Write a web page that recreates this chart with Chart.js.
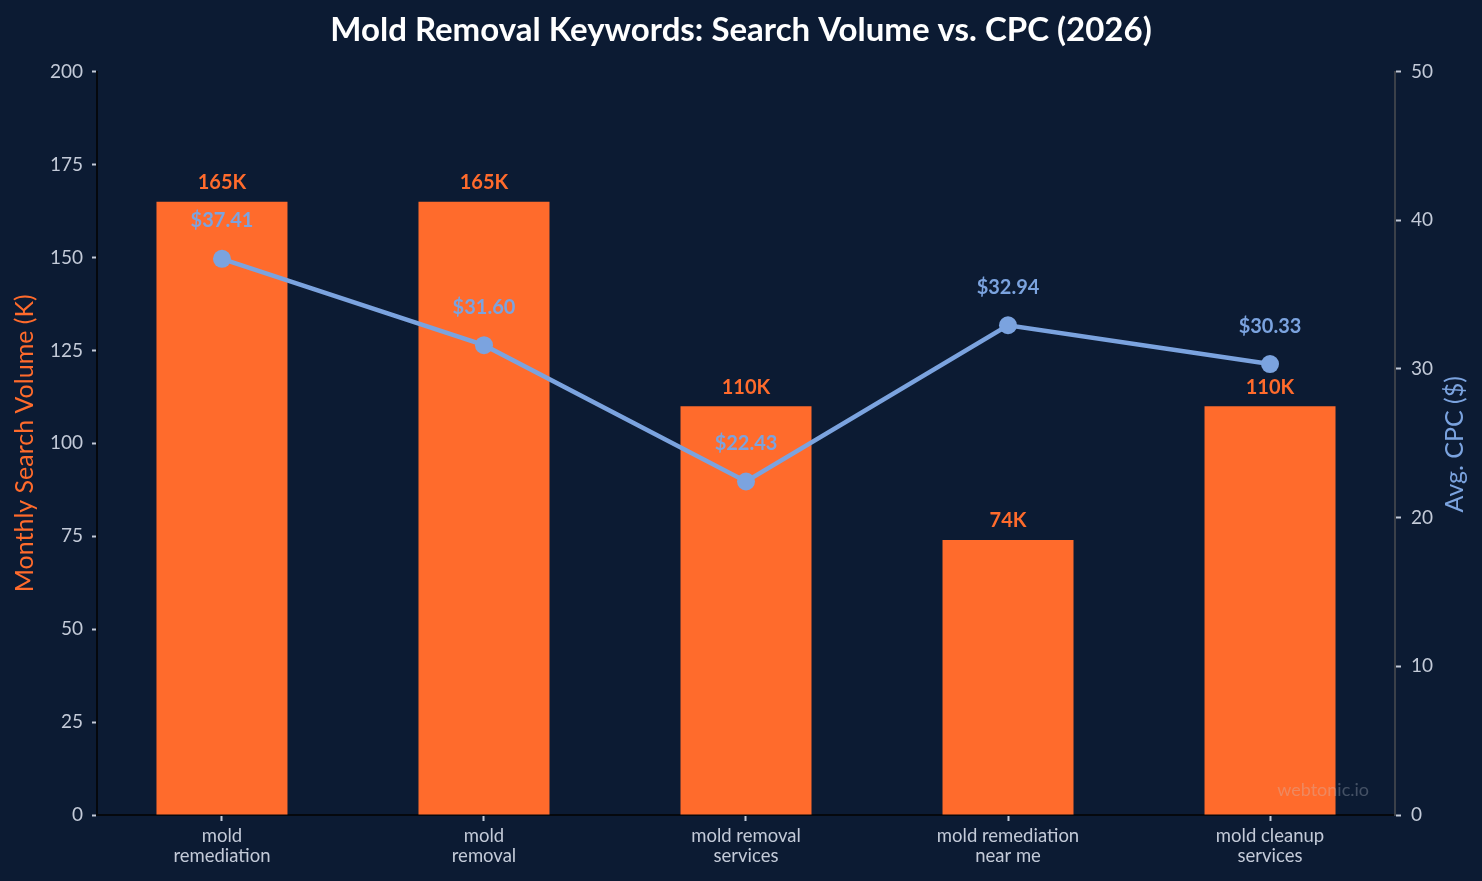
<!DOCTYPE html>
<html>
<head>
<meta charset="utf-8">
<script src="https://cdn.jsdelivr.net/npm/chart.js@4/dist/chart.umd.min.js"></script>
<style>
html,body{margin:0;padding:0;background:#0c1b33;}
#wrap{width:1482px;height:881px;}
</style>
</head>
<body>
<div id="wrap"><canvas id="c" width="1482" height="881"></canvas></div>
<script>
const categories = [["mold","remediation"],["mold","removal"],["mold removal","services"],["mold remediation","near me"],["mold cleanup","services"]];
const volumeK = [165, 165, 110, 74, 110];
const cpc = [37.41, 31.60, 22.43, 32.94, 30.33];
const volumeTicks = [0, 25, 50, 75, 100, 125, 150, 175, 200];
const cpcTicks = [0, 10, 20, 30, 40, 50];

const ORANGE = '#ff6b2c';
const BLUE = '#7ba3df';
const TICK = '#c3cad8';
const FONT = 'Lato, "Open Sans", sans-serif';

const labelPlugin = {
  id: 'valueLabels',
  afterDatasetsDraw(chart) {
    const ctx = chart.ctx;
    ctx.save();
    ctx.font = 'bold 20px ' + FONT;
    ctx.textAlign = 'center';
    ctx.textBaseline = 'middle';
    const barMeta = chart.getDatasetMeta(1);
    barMeta.data.forEach((el, i) => {
      ctx.fillStyle = ORANGE;
      ctx.fillText(volumeK[i] + 'K', el.x, el.y - 19);
    });
    const lineMeta = chart.getDatasetMeta(0);
    lineMeta.data.forEach((el, i) => {
      ctx.fillStyle = BLUE;
      ctx.fillText('$' + cpc[i].toFixed(2), el.x, el.y - 38);
    });
    ctx.font = '18px ' + FONT;
    ctx.textAlign = 'right';
    ctx.fillStyle = 'rgba(200,205,215,0.3)';
    ctx.fillText('webtonic.io', chart.chartArea.right - 26, chart.chartArea.bottom - 25);
    // right axis title, reading bottom-to-top
    ctx.translate(1455, (chart.chartArea.top + chart.chartArea.bottom) / 2 + 1);
    ctx.rotate(-Math.PI / 2);
    ctx.textAlign = 'center';
    ctx.font = '25px ' + FONT;
    ctx.fillStyle = BLUE;
    ctx.fillText('Avg. CPC ($)', 0, 0);
    ctx.restore();
  }
};

new Chart(document.getElementById('c'), {
  data: {
    datasets: [
      {
        type: 'line',
        label: 'Avg. CPC ($)',
        data: cpc.map((v, i) => ({ x: i, y: v })),
        yAxisID: 'y1',
        borderColor: BLUE,
        backgroundColor: BLUE,
        borderWidth: 4.5,
        pointRadius: 9,
        pointHoverRadius: 9,
        pointBackgroundColor: BLUE,
        pointBorderWidth: 0,
        tension: 0,
        order: 0
      },
      {
        type: 'bar',
        label: 'Monthly Search Volume (K)',
        data: volumeK.map((v, i) => ({ x: i, y: v })),
        yAxisID: 'y',
        backgroundColor: ORANGE,
        borderWidth: 0,
        categoryPercentage: 1.0,
        barPercentage: 0.5,
        order: 1
      }
    ]
  },
  options: {
    responsive: false,
    animation: false,
    layout: { padding: { left: 0, right: 0, top: 0, bottom: 0 } },
    plugins: {
      legend: { display: false },
      tooltip: { enabled: false },
      title: {
        display: true,
        text: 'Mold Removal Keywords: Search Volume vs. CPC (2026)',
        color: '#ffffff',
        font: { family: FONT, size: 33, weight: 'bold' },
        padding: { top: 11, bottom: 21 }
      }
    },
    scales: {
      x: {
        type: 'linear',
        min: -0.477,
        max: 4.477,
        offset: false,
        afterBuildTicks(s) { s.ticks = categories.map((c, i) => ({ value: i })); },
        grid: { display: true, offset: false, drawOnChartArea: false, tickLength: 6, tickColor: TICK, tickWidth: 2 },
        border: { display: true, color: '#05080d', width: 2 },
        ticks: {
          color: TICK,
          font: { family: FONT, size: 18.5, lineHeight: 1.03 },
          padding: 6,
          maxRotation: 0,
          autoSkip: false,
          callback: (v) => categories[v]
        },
        afterFit(s) { s.height = 66; }
      },
      y: {
        type: 'linear',
        position: 'left',
        min: 0, max: 200,
        afterBuildTicks(s) { s.ticks = volumeTicks.map(v => ({ value: v })); },
        grid: { display: true, drawOnChartArea: false, tickLength: 5, tickColor: TICK, tickWidth: 2 },
        border: { display: true, color: '#05080d', width: 2 },
        ticks: { color: TICK, font: { family: FONT, size: 19 }, padding: 9 },
        title: { display: true, text: 'Monthly Search Volume (K)', color: ORANGE, font: { family: FONT, size: 25 }, padding: { top: 10, bottom: 0 } },
        afterFit(s) { s.width = 97; }
      },
      y1: {
        type: 'linear',
        position: 'right',
        min: 0, max: 50,
        afterBuildTicks(s) { s.ticks = cpcTicks.map(v => ({ value: v })); },
        grid: { display: true, drawOnChartArea: false, tickLength: 6, tickColor: TICK, tickWidth: 2 },
        border: { display: true, color: '#3b4049', width: 2 },
        ticks: { color: TICK, font: { family: FONT, size: 19 }, padding: 10 },
        title: { display: false },
        afterFit(s) { s.width = 87; }
      }
    }
  },
  plugins: [labelPlugin]
});
</script>
</body>
</html>
